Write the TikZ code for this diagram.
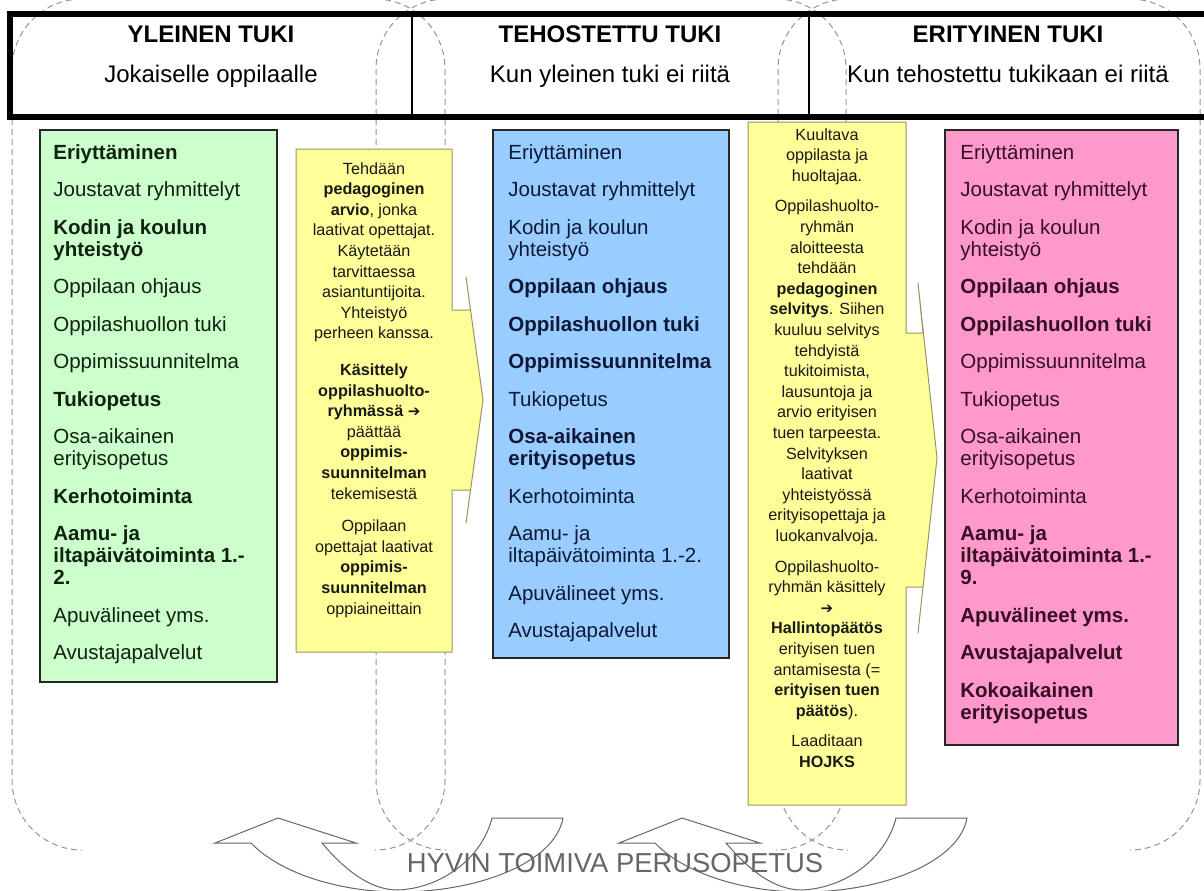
\documentclass[tikz,border=0pt]{standalone}
\usepackage{fontspec}
\setmainfont{Liberation Sans}
\newfontfamily\nuolifont{DejaVu Sans}
\usetikzlibrary{positioning}

\definecolor{vihrea}{RGB}{204,255,204}
\definecolor{sininen}{RGB}{153,204,255}
\definecolor{pinkki}{RGB}{255,153,204}
\definecolor{keltainen}{RGB}{255,255,153}
\definecolor{keltareuna}{RGB}{150,150,100}
\definecolor{vihreateksti}{RGB}{15,35,15}
\definecolor{sininenteksti}{RGB}{15,25,55}
\definecolor{pinkkiteksti}{RGB}{55,15,35}

\newcommand{\kohta}{\\[7.75pt]}
\newcommand{\nuolimerkki}{{\nuolifont\fontsize{7.5}{10.3}\selectfont ➔}}

\tikzset{
  tukialue/.style={draw=black!42, dash pattern=on 3pt off 2pt, line width=0.5pt, rounded corners=35pt},
  otsikko/.style={font=\fontsize{12}{14}\selectfont\bfseries, anchor=base},
  alaotsikko/.style={font=\fontsize{12}{14}\selectfont, anchor=base},
  laatikko/.style={draw=black!85, line width=0.8pt},
  lista/.style={font=\fontsize{10.25}{11}\selectfont, align=left, inner sep=0pt, anchor=north west},
  kuvaus/.style={font=\fontsize{8.1}{10.3}\selectfont, align=center, inner sep=0pt, anchor=north, text=black!90},
  nuoli/.style={draw=keltareuna, fill=keltainen, line width=0.5pt},
  kaari/.style={draw=black!60, line width=0.5pt},
}

\begin{document}
\begin{tikzpicture}[x=0.5pt,y=-0.5pt]
  \useasboundingbox (0,0) rectangle (1204,890);

  % katkoviivaiset alueet (ylä- ja alareuna auki)
  \foreach \a/\b in {12/445, 376/846, 778/1200} {
    \draw[tukialue] (\a+70,-1) -- (\a,-1) -- (\a,850) -- (\a+70,850);
    \draw[tukialue] (\b-70,-1) -- (\b,-1) -- (\b,850) -- (\b-70,850);
  }

  % otsikkorivi
  \draw[line width=3pt] (10,14) rectangle (1220,117);
  \draw[line width=0.6pt] (412,14) -- (412,117);
  \draw[line width=0.6pt] (809,14) -- (809,117);

  \node[otsikko]    (yleinen)   at (211,42)  {YLEINEN TUKI};
  \node[alaotsikko] (yleinen2)  at (211,82)  {Jokaiselle oppilaalle};
  \node[otsikko]    (tehostettu)  at (610,42) {TEHOSTETTU TUKI};
  \node[alaotsikko] (tehostettu2) at (610,82) {Kun yleinen tuki ei riitä};
  \node[otsikko]    (erityinen)   at (1008,42) {ERITYINEN TUKI};
  \node[alaotsikko] (erityinen2)  at (1008,82) {Kun tehostettu tukikaan ei riitä};

  % laatikot
  \draw[laatikko, fill=vihrea]  (40,130) rectangle (277,682);
  \draw[laatikko, fill=sininen] (493,130) rectangle (729,658);
  \draw[laatikko, fill=pinkki]  (945,130) rectangle (1178,745);

  \draw[nuoli] (296,149) -- (452,149) -- (452,310) -- (470.5,310) -- (466,277) -- (483,400)
    -- (466,523) -- (470.5,490) -- (452,490) -- (452,652) -- (296,652) -- cycle;
  \draw[nuoli] (748,122) -- (906,122) -- (906,333) -- (923,333) -- (918,283) -- (937,458)
    -- (918,633) -- (923,587) -- (906,587) -- (906,805) -- (748,805) -- cycle;

  % listat
  \node[lista, text=vihreateksti] (yleinenlista) at (53,144) {\textbf{Eriyttäminen}\kohta
    Joustavat ryhmittelyt\kohta
    \textbf{Kodin ja koulun}\\\textbf{yhteistyö}\kohta
    Oppilaan ohjaus\kohta
    Oppilashuollon tuki\kohta
    Oppimissuunnitelma\kohta
    \textbf{Tukiopetus}\kohta
    Osa-aikainen\\erityisopetus\kohta
    \textbf{Kerhotoiminta}\kohta
    \textbf{Aamu- ja}\\\textbf{iltapäivätoiminta 1.-}\\\textbf{2.}\kohta
    Apuvälineet yms.\kohta
    Avustajapalvelut};

  \node[lista, text=sininenteksti] (tehostettulista) at (508,144) {Eriyttäminen\kohta
    Joustavat ryhmittelyt\kohta
    Kodin ja koulun\\yhteistyö\kohta
    \textbf{Oppilaan ohjaus}\kohta
    \textbf{Oppilashuollon tuki}\kohta
    \textbf{Oppimissuunnitelma}\kohta
    Tukiopetus\kohta
    \textbf{Osa-aikainen}\\\textbf{erityisopetus}\kohta
    Kerhotoiminta\kohta
    Aamu- ja\\iltapäivätoiminta 1.-2.\kohta
    Apuvälineet yms.\kohta
    Avustajapalvelut};

  \node[lista, text=pinkkiteksti] (erityinenlista) at (960,144) {Eriyttäminen\kohta
    Joustavat ryhmittelyt\kohta
    Kodin ja koulun\\yhteistyö\kohta
    \textbf{Oppilaan ohjaus}\kohta
    \textbf{Oppilashuollon tuki}\kohta
    Oppimissuunnitelma\kohta
    Tukiopetus\kohta
    Osa-aikainen\\erityisopetus\kohta
    Kerhotoiminta\kohta
    \textbf{Aamu- ja}\\\textbf{iltapäivätoiminta 1.-}\\\textbf{9.}\kohta
    \textbf{Apuvälineet yms.}\kohta
    \textbf{Avustajapalvelut}\kohta
    \textbf{Kokoaikainen}\\\textbf{erityisopetus}};

  % siirtymat
  \node[kuvaus] (arvio) at (374,162) {Tehdään\\\textbf{pedagoginen}\\\textbf{arvio}, jonka\\laativat opettajat.\\Käytetään\\tarvittaessa\\asiantuntijoita.\\Yhteistyö\\perheen kanssa.\\[8pt]
    \textbf{Käsittely}\\\textbf{oppilashuolto-}\\\textbf{ryhmässä} \nuolimerkki\\päättää\\\textbf{oppimis-}\\\textbf{suunnitelman}\\tekemisestä\\[6pt]
    Oppilaan\\opettajat laativat\\\textbf{oppimis-}\\\textbf{suunnitelman}\\oppiaineittain};

  \node[kuvaus] (selvitys) at (827,128) {Kuultava\\oppilasta ja\\huoltajaa.\\[5pt]
    Oppilashuolto-\\ryhmän\\aloitteesta\\tehdään\\\textbf{pedagoginen}\\\textbf{selvitys}. Siihen\\kuuluu selvitys\\tehdyistä\\tukitoimista,\\lausuntoja ja\\arvio erityisen\\tuen tarpeesta.\\Selvityksen\\laativat\\yhteistyössä\\erityisopettaja ja\\luokanvalvoja.\\[5pt]
    Oppilashuolto-\\ryhmän käsittely\\\nuolimerkki\\\textbf{Hallintopäätös}\\erityisen tuen\\antamisesta (=\\\textbf{erityisen tuen}\\\textbf{päätös}).\\[5pt]
    Laaditaan\\\textbf{HOJKS}};

  % alaosa
  \node[font=\fontsize{13.7}{16}\selectfont, text=black!60] (perusopetus) at (615,863) {HYVIN TOIMIVA PERUSOPETUS};

  \foreach \dx in {0,404} {
    \draw[kaari, shift={(\dx,0)}] (563,818) -- (492,818)
      .. controls (482,858) and (442,888) .. (398,890)
      .. controls (370,890) and (345,870) .. (322,843)
      -- (356,843) -- (278,818) -- (215,843) -- (251,843)
      .. controls (285,878) and (350,892) .. (398,892)
      .. controls (480,892) and (555,862) .. (563,818) -- cycle;
  }
\end{tikzpicture}
\end{document}
